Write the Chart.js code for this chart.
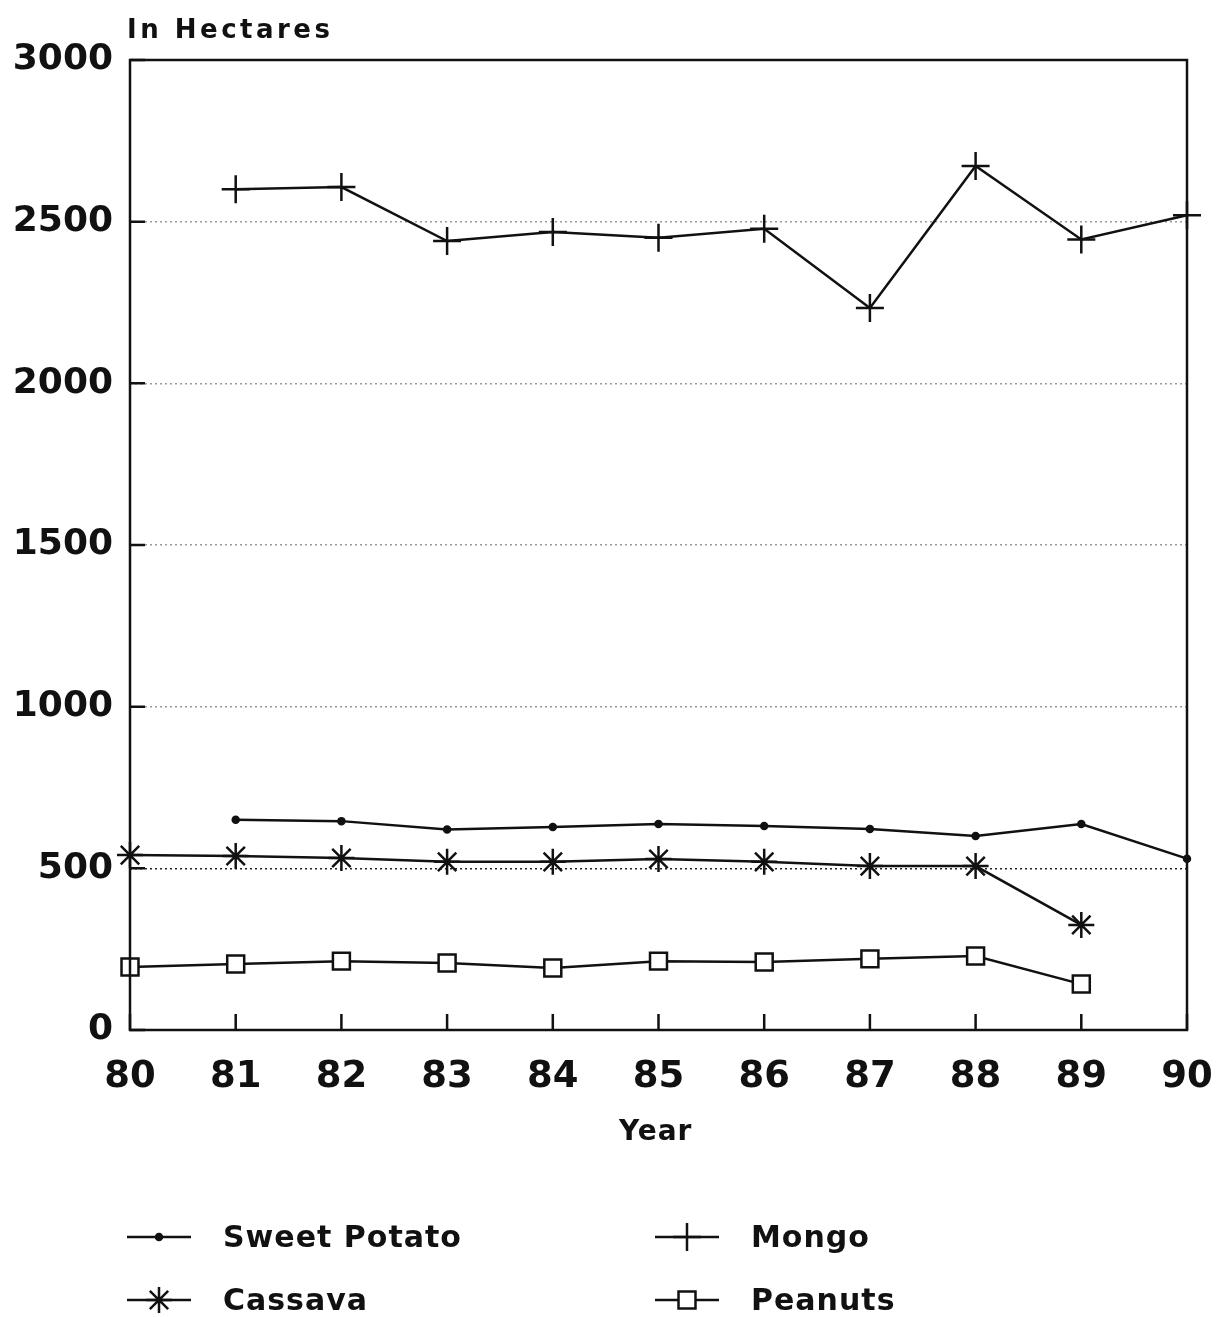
<!DOCTYPE html>
<html>
<head>
<meta charset="utf-8">
<script src="https://cdn.jsdelivr.net/npm/chart.js@4.4.1/dist/chart.umd.min.js"></script>
<style>
  body { margin: 0; background: #fff; }
  #wrap { position: relative; width: 1216px; height: 1317px; }
  .txt { position: absolute; font-family: 'DejaVu Sans', sans-serif; font-weight: bold; color: #111; white-space: nowrap; }
  #unit { left: 127px; top: 14px; font-size: 26px; letter-spacing: 3.5px; }
  #xtitle { left: 619px; top: 1114px; font-size: 28px; letter-spacing: 1px; }
  .leg { font-size: 30px; letter-spacing: 1px; }
</style>
</head>
<body>
<div id="wrap">
  <canvas id="cropChart" width="1216" height="1317"></canvas>
  <div class="txt" id="unit">In Hectares</div>
  <div class="txt" id="xtitle">Year</div>
  <div class="txt leg" style="left:223px; top:1219px;">Sweet Potato</div>
  <div class="txt leg" style="left:751px; top:1219px;">Mongo</div>
  <div class="txt leg" style="left:223px; top:1282px;">Cassava</div>
  <div class="txt leg" style="left:751px; top:1282px;">Peanuts</div>
</div>
<script>
// ===== DATA =====
const years = ['80', '81', '82', '83', '84', '85', '86', '87', '88', '89', '90'];
const sweetPotato = [null, 650, 646, 620, 628, 637, 631, 622, 600, 637, 530];
const mongo = [null, 2600, 2607, 2440, 2468, 2450, 2478, 2233, 2672, 2445, 2520];
const cassava = [541, 538, 532, 520, 520, 529, 520, 507, 507, 325, null];
const peanuts = [195, 204, 213, 207, 192, 213, 210, 220, 229, 142, null];
const yTicks = [0, 500, 1000, 1500, 2000, 2500, 3000];

// legend sample positions (line x range, center y)
const legendItems = [
  { ds: 0, x1: 127, x2: 191, y: 1237 },
  { ds: 1, x1: 655, x2: 719, y: 1237 },
  { ds: 2, x1: 127, x2: 191, y: 1300 },
  { ds: 3, x1: 655, x2: 719, y: 1300 }
];

const series = (label, data, pointStyle, radius) => ({
  label,
  data,
  borderColor: '#111',
  backgroundColor: '#fff',
  pointBorderColor: '#111',
  pointBackgroundColor: pointStyle === 'circle' ? '#111' : '#fff',
  pointStyle,
  pointRadius: radius,
  pointBorderWidth: 2.5,
  borderWidth: 2.5,
  tension: 0,
  fill: false,
  clip: false
});

// box, inner ticks and legend samples
const framePlugin = {
  id: 'frame',
  afterDraw(chart) {
    const { ctx, chartArea: a, scales } = chart;
    ctx.save();
    ctx.strokeStyle = '#111';
    ctx.lineWidth = 2.5;
    ctx.strokeRect(a.left, a.top, a.right - a.left, a.bottom - a.top);
    ctx.beginPath();
    yTicks.forEach(v => {
      const y = scales.y.getPixelForValue(v);
      ctx.moveTo(a.left, y);
      ctx.lineTo(a.left + 15, y);
    });
    years.forEach((_, i) => {
      const x = scales.x.getPixelForValue(i);
      ctx.moveTo(x, a.bottom);
      ctx.lineTo(x, a.bottom - 16);
    });
    ctx.stroke();

    legendItems.forEach(it => {
      const ds = chart.data.datasets[it.ds];
      ctx.beginPath();
      ctx.lineWidth = 2.5;
      ctx.strokeStyle = '#111';
      ctx.moveTo(it.x1, it.y);
      ctx.lineTo(it.x2, it.y);
      ctx.stroke();
      ctx.fillStyle = ds.pointBackgroundColor;
      ctx.strokeStyle = '#111';
      Chart.helpers.drawPoint(ctx, {
        pointStyle: ds.pointStyle,
        radius: ds.pointRadius,
        rotation: 0,
        borderWidth: 2.5
      }, (it.x1 + it.x2) / 2, it.y);
    });
    ctx.restore();
  }
};

new Chart(document.getElementById('cropChart'), {
  type: 'line',
  data: {
    labels: years,
    datasets: [
      series('Sweet Potato', sweetPotato, 'circle', 3),
      series('Mongo', mongo, 'cross', 14),
      series('Cassava', cassava, 'star', 13),
      series('Peanuts', peanuts, 'rect', 12)
    ]
  },
  options: {
    responsive: false,
    animation: false,
    devicePixelRatio: 1,
    layout: { padding: { top: 60, right: 29, left: 0, bottom: 0 } },
    plugins: { legend: { display: false }, tooltip: { enabled: false } },
    scales: {
      x: {
        type: 'category',
        offset: false,
        grid: { display: false, drawTicks: false },
        border: { display: false },
        ticks: {
          color: '#111',
          padding: 25,
          maxRotation: 0,
          autoSkip: false,
          font: { family: "'DejaVu Sans', sans-serif", weight: 'bold', size: 37 }
        },
        afterFit: s => { s.height = 287; s.paddingLeft = 0; s.paddingRight = 0; }
      },
      y: {
        min: 0,
        max: 3000,
        afterBuildTicks: s => { s.ticks = yTicks.map(v => ({ value: v })); },
        grid: {
          drawTicks: false,
          color: ctx => ctx.tick && ctx.tick.value === 500 ? '#222' : '#9a9a9a',
          lineWidth: 1.5
        },
        border: { display: false, dash: [2, 3] },
        ticks: {
          color: '#111',
          padding: 17,
          callback: v => String(v),
          font: { family: "'DejaVu Sans', sans-serif", weight: 'bold', size: 36 }
        },
        afterFit: s => { s.width = 130; s.paddingTop = 0; s.paddingBottom = 0; }
      }
    }
  },
  plugins: [framePlugin]
});
</script>
</body>
</html>
